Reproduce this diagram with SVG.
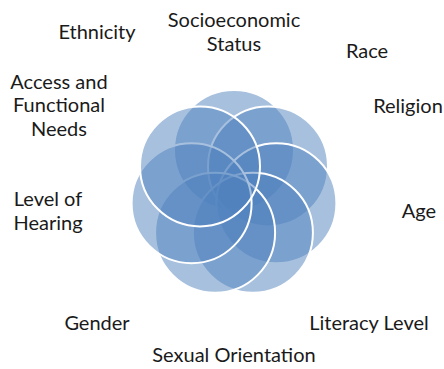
<svg xmlns="http://www.w3.org/2000/svg" width="444" height="369" viewBox="0 0 444 369">
<style>
.c{fill:#4F81BD;fill-opacity:0.5;stroke:#FFFFFF;stroke-width:2}
.t{font-family:Lato,"Liberation Sans",sans-serif;font-size:20px;fill:#1a1a1a;text-anchor:middle}
</style>
<rect width="444" height="369" fill="#FFFFFF"/>
<g id="circles">
<circle id="c1" class="c" cx="234" cy="150" r="60"/>
<circle id="c2" class="c" cx="268" cy="166.4" r="60"/>
<circle id="c3" class="c" cx="276.4" cy="203.2" r="60"/>
<circle id="c4" class="c" cx="252.9" cy="232.7" r="60"/>
<circle id="c5" class="c" cx="215.1" cy="232.7" r="60"/>
<circle id="c6" class="c" cx="191.6" cy="203.2" r="60"/>
<circle id="c7" class="c" cx="200" cy="166.4" r="60"/>
</g>
<g id="connectors"/>
<g id="labels">
<g id="socio"><text class="t" x="234" y="27">Socioeconomic</text><text class="t" x="234" y="51">Status</text></g>
<g id="race"><text class="t" x="367" y="58">Race</text></g>
<g id="religion"><text class="t" x="408" y="113">Religion</text></g>
<g id="age"><text class="t" x="419" y="218">Age</text></g>
<g id="literacy"><text class="t" x="369" y="330">Literacy Level</text></g>
<g id="sexual"><text class="t" x="234" y="362">Sexual Orientation</text></g>
<g id="gender"><text class="t" x="97" y="330">Gender</text></g>
<g id="hearing"><text class="t" x="48" y="206">Level of</text><text class="t" x="48" y="230">Hearing</text></g>
<g id="access"><text class="t" x="59" y="89">Access and</text><text class="t" x="59" y="112">Functional</text><text class="t" x="59" y="136">Needs</text></g>
<g id="ethnicity"><text class="t" x="97" y="39">Ethnicity</text></g>
</g>
</svg>
